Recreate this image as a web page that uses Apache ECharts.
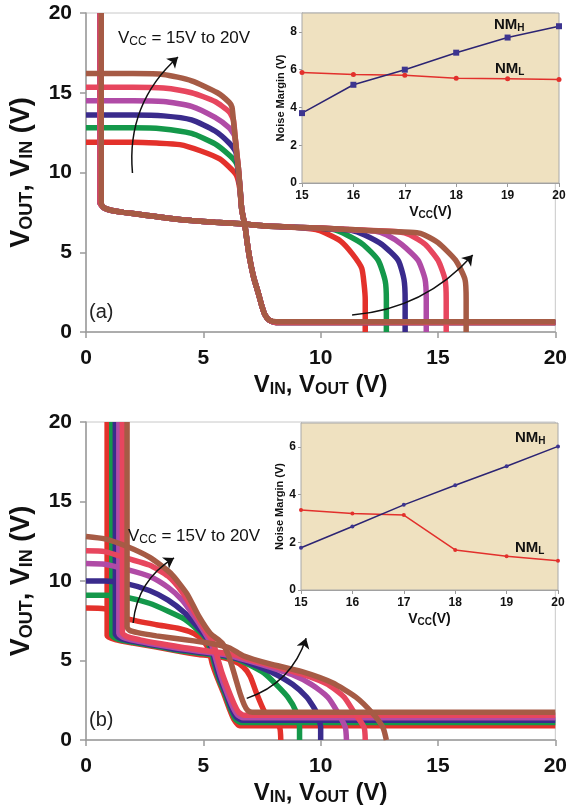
<!DOCTYPE html>
<html lang="en">
<head>
<meta charset="UTF-8">
<title>VTC butterfly curves and noise margin</title>
<script src="https://cdn.jsdelivr.net/npm/echarts@6/dist/echarts.min.js"></script>
<style>
    html, body { margin: 0; padding: 0; background: #fff; }
    #chart { width: 570px; height: 807px; }
</style>
</head>
<body>
<div id="chart"></div>
<script>
    // supply voltages, one colour each
    var vccNames = ['15V', '16V', '17V', '18V', '19V', '20V'];
    var vccColors = ['#e3312b', '#14984a', '#3a2b8c', '#b04ba6', '#e7465e', '#a65b45'];

    // panel (a): VOUT vs VIN, one curve per Vcc
    var vtcA15 = [[0, 11.9], [2, 11.9], [3, 11.85], [4, 11.75], [4.9, 11.35], [5.7, 10.85], [6.2, 10.2], [6.42, 9.8], [6.55, 9.0], [6.64, 7.65], [6.78, 6.6], [6.88, 5.5], [6.99, 4.5], [7.15, 3.4], [7.35, 2.4], [7.5, 1.6], [7.62, 1.1], [7.8, 0.75], [8.1, 0.6], [20, 0.6]];
    var vtcA16 = [[0, 12.8], [2, 12.8], [3.2, 12.75], [4.5, 12.45], [5.5, 11.8], [6.1, 11.1], [6.4, 10.6], [6.5, 10.0], [6.57, 8.9], [6.64, 7.65], [6.78, 6.6], [6.88, 5.5], [6.99, 4.5], [7.15, 3.4], [7.35, 2.4], [7.5, 1.6], [7.62, 1.1], [7.8, 0.75], [8.1, 0.6], [20, 0.6]];
    var vtcA17 = [[0, 13.6], [2, 13.6], [3.3, 13.55], [4.5, 13.3], [5.5, 12.6], [6.1, 11.85], [6.38, 11.3], [6.45, 10.6], [6.5, 10.0], [6.57, 8.9], [6.64, 7.65], [6.78, 6.6], [6.88, 5.5], [6.99, 4.5], [7.15, 3.4], [7.35, 2.4], [7.5, 1.6], [7.62, 1.1], [7.8, 0.75], [8.1, 0.6], [20, 0.6]];
    var vtcA18 = [[0, 14.5], [2, 14.5], [3.3, 14.45], [4.5, 14.15], [5.5, 13.45], [6.1, 12.8], [6.33, 12.3], [6.42, 11.2], [6.5, 10.2], [6.57, 8.9], [6.64, 7.65], [6.78, 6.6], [6.88, 5.5], [6.99, 4.5], [7.15, 3.4], [7.35, 2.4], [7.5, 1.6], [7.62, 1.1], [7.8, 0.75], [8.1, 0.6], [20, 0.6]];
    var vtcA19 = [[0, 15.35], [2, 15.35], [3.3, 15.3], [4.5, 15.0], [5.5, 14.45], [6.1, 13.8], [6.28, 13.3], [6.36, 12.2], [6.43, 11.2], [6.5, 10.2], [6.57, 8.9], [6.64, 7.65], [6.78, 6.6], [6.88, 5.5], [6.99, 4.5], [7.15, 3.4], [7.35, 2.4], [7.5, 1.6], [7.62, 1.1], [7.8, 0.75], [8.1, 0.6], [20, 0.6]];
    var vtcA20 = [[0, 16.2], [2, 16.2], [3.3, 16.15], [4.5, 15.75], [5.6, 15.0], [6.1, 14.4], [6.22, 14.1], [6.3, 13.0], [6.37, 12.0], [6.44, 11.0], [6.5, 10.2], [6.57, 8.9], [6.64, 7.65], [6.78, 6.6], [6.88, 5.5], [6.99, 4.5], [7.15, 3.4], [7.35, 2.4], [7.5, 1.6], [7.62, 1.1], [7.8, 0.75], [8.1, 0.65], [20, 0.65]];

    // panel (b)
    var vtcB15 = [[0, 8.3], [0.8, 8.25], [1.3, 7.9], [1.8, 7.6], [3, 7.25], [4, 7.0], [4.6, 6.7], [5.0, 6.25], [5.25, 5.6], [5.38, 4.8], [5.6, 3.9], [5.85, 3.0], [6.1, 2.0], [6.3, 1.3], [6.55, 0.9], [20, 0.9]];
    var vtcB16 = [[0, 9.1], [0.8, 9.1], [1.8, 8.95], [2.7, 8.6], [3.5, 8.1], [4.2, 7.6], [4.7, 7.0], [5.1, 6.4], [5.3, 5.7], [5.45, 4.9], [5.65, 3.9], [5.9, 3.0], [6.15, 2.0], [6.35, 1.35], [6.6, 1.1], [20, 1.1]];
    var vtcB17 = [[0, 10.0], [0.8, 10.0], [1.8, 9.8], [2.7, 9.4], [3.5, 8.8], [4.2, 8.0], [4.7, 7.2], [5.1, 6.5], [5.35, 5.8], [5.5, 4.9], [5.7, 3.9], [5.95, 3.0], [6.2, 2.0], [6.4, 1.45], [6.65, 1.25], [20, 1.25]];
    var vtcB18 = [[0, 11.1], [0.8, 11.05], [1.8, 10.7], [2.7, 10.3], [3.5, 9.6], [4.1, 8.8], [4.6, 7.8], [5.0, 6.9], [5.35, 6.0], [5.55, 5.0], [5.75, 4.0], [6.0, 3.0], [6.25, 2.1], [6.45, 1.6], [6.7, 1.4], [20, 1.4]];
    var vtcB19 = [[0, 11.9], [0.8, 11.85], [1.8, 11.4], [2.7, 11.0], [3.5, 10.3], [4.1, 9.3], [4.6, 8.1], [5.0, 7.1], [5.4, 6.2], [5.6, 5.2], [5.8, 4.2], [6.05, 3.2], [6.3, 2.3], [6.5, 1.75], [6.75, 1.55], [20, 1.55]];
    var vtcB20 = [[0, 12.8], [0.8, 12.65], [1.7, 12.2], [2.7, 11.5], [3.6, 10.5], [4.3, 9.2], [4.8, 7.8], [5.3, 6.7], [5.8, 6.1], [6.1, 5.2], [6.35, 4.0], [6.55, 3.0], [6.75, 2.2], [6.9, 1.85], [7.1, 1.75], [20, 1.75]];

    // insets: noise margins
    var nmVcc = [15, 16, 17, 18, 19, 20];
    var nmHighA = [3.7, 5.2, 6.0, 6.9, 7.7, 8.3];
    var nmLowA = [5.85, 5.75, 5.7, 5.55, 5.52, 5.48];
    var nmHighB = [1.77, 2.66, 3.57, 4.39, 5.19, 6.02];
    var nmLowB = [3.35, 3.21, 3.14, 1.68, 1.41, 1.23];

    // curved arrows (data coords of the main plots)
    var arrowsA = [[[1.98, 9.97], [3.92, 17.24], 0.25], [[11.34, 1.07], [16.48, 4.83], -0.2]];
    var arrowsB = [[[2.01, 7.36], [3.75, 11.45], 0.25], [[6.85, 2.62], [9.38, 6.4], -0.25]];

    var FONT = '"Liberation Sans", Arial, sans-serif';
    var AXIS_GREY = '#9a9a9a';

    function swapXY(pts) {
        return pts.map(function (p) { return [p[1], p[0]]; });
    }

    function pairs(xs, ys) {
        return xs.map(function (x, i) { return [x, ys[i]]; });
    }

    function vtcSeries(curves, axisIdx) {
        var out = [];
        curves.forEach(function (pts, i) {
            [pts, swapXY(pts)].forEach(function (d) {
                out.push({
                    name: vccNames[i],
                    type: 'line',
                    xAxisIndex: axisIdx,
                    yAxisIndex: axisIdx,
                    data: d,
                    showSymbol: false,
                    smooth: 0.2,
                    silent: true,
                    z: 2 + i,
                    lineStyle: { color: vccColors[i], width: 5.5 },
                    itemStyle: { color: vccColors[i] }
                });
            });
        });
        return out;
    }

    function arrowSeries(list, axisIdx) {
        return {
            type: 'lines',
            coordinateSystem: 'cartesian2d',
            xAxisIndex: axisIdx,
            yAxisIndex: axisIdx,
            symbol: ['none', 'arrow'],
            symbolSize: 10,
            silent: true,
            z: 20,
            lineStyle: { color: '#111', width: 1.5, opacity: 1 },
            data: list.map(function (a) {
                return { coords: [a[0], a[1]], lineStyle: { curveness: a[2] } };
            })
        };
    }

    function nmSeries(high, low, axisIdx, big) {
        return [{
            type: 'line',
            xAxisIndex: axisIdx,
            yAxisIndex: axisIdx,
            data: pairs(nmVcc, low),
            symbol: 'circle',
            symbolSize: big ? 5 : 4,
            silent: true,
            lineStyle: { color: '#e2302c', width: 1.5 },
            itemStyle: { color: '#e2302c' },
            z: 5
        }, {
            type: 'line',
            xAxisIndex: axisIdx,
            yAxisIndex: axisIdx,
            data: pairs(nmVcc, high),
            symbol: big ? 'rect' : 'circle',
            symbolSize: big ? 6 : 4,
            silent: true,
            lineStyle: { color: '#2c2473', width: 1.5 },
            itemStyle: { color: '#3d3590' },
            z: 6
        }];
    }

    var richMain = {
        v: { fontFamily: FONT, fontWeight: 'bold', fontSize: 24, color: '#111' },
        s: { fontFamily: FONT, fontWeight: 'bold', fontSize: 16, color: '#111', padding: [10, 0, 0, 0] }
    };
    var richMainY = {
        v: { fontFamily: FONT, fontWeight: 'bold', fontSize: 27, color: '#111' },
        s: { fontFamily: FONT, fontWeight: 'bold', fontSize: 18, color: '#111', padding: [11, 0, 0, 0] }
    };
    var richInset = {
        v: { fontFamily: FONT, fontWeight: 'bold', fontSize: 14, color: '#111' },
        s: { fontFamily: FONT, fontWeight: 'bold', fontSize: 10, color: '#111', padding: [5, 0, 0, 0] }
    };

    function mainX(gridIdx) {
        return {
            gridIndex: gridIdx, type: 'value', min: 0, max: 20, interval: 5,
            axisLine: { onZero: false, lineStyle: { color: AXIS_GREY, width: 1.5 } },
            axisTick: { length: 6, lineStyle: { color: AXIS_GREY, width: 1.5 } },
            axisLabel: { fontFamily: FONT, fontWeight: 'bold', fontSize: 21, color: '#111', margin: 16 },
            splitLine: { show: false },
            name: '{v|V}{s|IN}{v|, V}{s|OUT}{v| (V)}',
            nameLocation: 'middle', nameGap: 40,
            nameTextStyle: { rich: richMain }
        };
    }

    function mainY(gridIdx) {
        return {
            gridIndex: gridIdx, type: 'value', min: 0, max: 20, interval: 5,
            axisLine: { onZero: false, lineStyle: { color: AXIS_GREY, width: 1.5 } },
            axisTick: { length: 6, lineStyle: { color: AXIS_GREY, width: 1.5 } },
            axisLabel: { fontFamily: FONT, fontWeight: 'bold', fontSize: 21, color: '#111', margin: 14 },
            splitLine: { show: false },
            name: '{v|V}{s|OUT}{v|, V}{s|IN}{v| (V)}',
            nameLocation: 'middle', nameGap: 50, nameRotate: 90,
            nameTextStyle: { rich: richMainY }
        };
    }

    function insetX(gridIdx) {
        return {
            gridIndex: gridIdx, type: 'value', min: 15, max: 20, interval: 1,
            axisLine: { onZero: false, lineStyle: { color: AXIS_GREY } },
            axisTick: { length: 4, lineStyle: { color: AXIS_GREY } },
            axisLabel: { fontFamily: FONT, fontWeight: 'bold', fontSize: 12, color: '#111', margin: 7 },
            splitLine: { show: false },
            name: '{v|V}{s|CC}{v|(V)}',
            nameLocation: 'middle', nameGap: 22,
            nameTextStyle: { rich: richInset }
        };
    }

    function insetY(gridIdx, top) {
        return {
            gridIndex: gridIdx, type: 'value', min: 0, max: top, interval: 2,
            axisLine: { lineStyle: { color: AXIS_GREY } },
            axisTick: { length: 3, lineStyle: { color: AXIS_GREY } },
            axisLabel: { fontFamily: FONT, fontWeight: 'bold', fontSize: 12, color: '#111', margin: 5, showMaxLabel: false },
            splitLine: { show: false },
            name: 'Noise Margin (V)',
            nameLocation: 'middle', nameGap: 16, nameRotate: 90,
            nameTextStyle: { fontFamily: FONT, fontWeight: 'bold', fontSize: 11, color: '#111' }
        };
    }

    function richText(left, top, text, size, bold, subSize, subPad) {
        return {
            type: 'text', left: left, top: top, z: 30,
            style: {
                text: text,
                fill: '#111',
                rich: {
                    v: { fontFamily: FONT, fontSize: size, fontWeight: bold ? 'bold' : 'normal', fill: '#111' },
                    s: { fontFamily: FONT, fontSize: subSize, fontWeight: bold ? 'bold' : 'normal', fill: '#111', padding: [subPad, 0, 0, 0] }
                }
            }
        };
    }

    var myChart = echarts.init(document.getElementById('chart'));

    var option = {
        animation: false,
        backgroundColor: '#fff',
        grid: [
            { left: 84, right: 11, top: 13, height: 319, show: true, borderColor: '#c8c8c8', borderWidth: 1 },
            { left: 302, right: 11, top: 13, height: 170, show: true, backgroundColor: '#efe1c0', borderColor: '#a8a8a8', borderWidth: 1, z: 1 },
            { left: 84, right: 11, top: 422, height: 318, show: true, borderColor: '#c8c8c8', borderWidth: 1 },
            { left: 301, right: 12, top: 423, height: 167, show: true, backgroundColor: '#efe1c0', borderColor: '#a8a8a8', borderWidth: 1, z: 1 }
        ],
        xAxis: [mainX(0), insetX(1), mainX(2), insetX(3)],
        yAxis: [mainY(0), insetY(1, 9), mainY(2), insetY(3, 7)],
        series: [].concat(
            vtcSeries([vtcA15, vtcA16, vtcA17, vtcA18, vtcA19, vtcA20], 0),
            [arrowSeries(arrowsA, 0)],
            nmSeries(nmHighA, nmLowA, 1, true),
            vtcSeries([vtcB15, vtcB16, vtcB17, vtcB18, vtcB19, vtcB20], 2),
            [arrowSeries(arrowsB, 2)],
            nmSeries(nmHighB, nmLowB, 3, false)
        ),
        graphic: [
            richText(118, 30, '{v|V}{s|CC}{v| = 15V to 20V}', 17, false, 12, 7),
            richText(128, 528, '{v|V}{s|CC}{v| = 15V to 20V}', 17, false, 12, 7),
            { type: 'text', left: 89, top: 302, z: 30, style: { text: '(a)', fill: '#222', font: '20px ' + FONT } },
            { type: 'text', left: 89, top: 710, z: 30, style: { text: '(b)', fill: '#222', font: '20px ' + FONT } },
            richText(494, 17, '{v|NM}{s|H}', 15, true, 10, 7),
            richText(495, 61, '{v|NM}{s|L}', 15, true, 10, 7),
            richText(515, 430, '{v|NM}{s|H}', 15, true, 10, 7),
            richText(515, 540, '{v|NM}{s|L}', 15, true, 10, 7)
        ]
    };

    myChart.setOption(option);
</script>
</body>
</html>
